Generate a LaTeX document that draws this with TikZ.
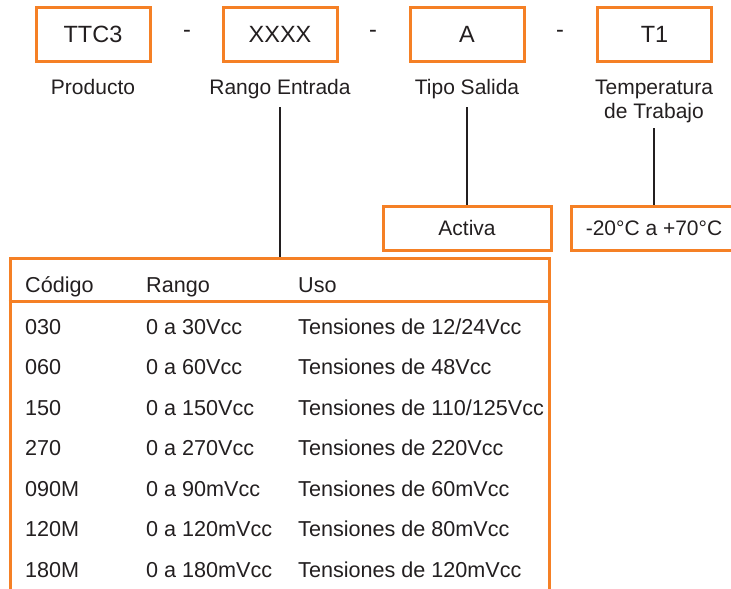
\documentclass[tikz,border=0pt]{standalone}
\usepackage{fontspec}
\setmainfont{Liberation Sans}
\definecolor{org}{HTML}{F58025}
\definecolor{ink}{HTML}{231F20}
\tikzset{
  codebox/.style={draw=org, line width=3pt, minimum width=114pt, minimum height=54pt, inner sep=0pt, text=ink, font=\fontsize{23.5}{28}\selectfont},
  valbox/.style={draw=org, line width=3pt, minimum height=44pt, inner sep=0pt, text=ink, font=\fontsize{21}{25}\selectfont},
  tablebox/.style={draw=org, line width=3pt, minimum width=539pt, minimum height=344pt, inner sep=0pt},
  lbl/.style={inner sep=0pt, text=ink, font=\fontsize{21}{24}\selectfont},
  dashtxt/.style={inner sep=0pt, text=ink, font=\fontsize{23.5}{28}\selectfont},
  cell/.style={inner sep=0pt, anchor=base west, text=ink, font=\fontsize{21.6}{24}\selectfont},
  conn/.style={draw=ink, line width=2.5pt},
  sep/.style={draw=org, line width=3pt}
}
\begin{document}
\begin{tikzpicture}[x=1pt,y=-1pt]
\useasboundingbox (0,0) rectangle (731,589);
\clip (0,0) rectangle (731,589);
% top code boxes
\node[codebox] (ttc) at (93,34) {TTC3};
\node[codebox] (xxxx) at (280,34) {XXXX};
\node[codebox] (a) at (467,34) {A};
\node[codebox] (t1) at (654.5,34) {T1};
\node[dashtxt, anchor=base] (d1) at (187,37) {-};
\node[dashtxt, anchor=base] (d2) at (373,37) {-};
\node[dashtxt, anchor=base] (d3) at (560,37) {-};
% labels
\node[lbl, anchor=base] (lprod) at (93,94) {Producto};
\node[lbl, anchor=base] (lrango) at (280,94) {Rango Entrada};
\node[lbl, anchor=base] (ltipo) at (467,94) {Tipo Salida};
\node[lbl, anchor=base] (ltemp) at (654,94) {Temperatura};
\node[lbl, anchor=base] (ltemp2) at (654,118) {de Trabajo};
% value boxes
\node[valbox, minimum width=168pt] (activa) at (467,228) {Activa};
\node[valbox, minimum width=166pt] (temp) at (654,228) {-20°C a +70°C};
% table
\node[tablebox] (tab) at (279.5,430) {};
\draw[sep] (tab.west |- 0,301) -- (tab.east |- 0,301);
% connectors
\draw[conn, shorten <=8.5pt] (lrango.south) -- (lrango.south |- tab.north);
\draw[conn, shorten <=8.5pt] (ltipo.south) -- (activa.north);
\draw[conn, shorten <=5.5pt] (ltemp2.south) -- (temp.north);
% table header
\node[cell] (h1) at (25,292) {Código};
\node[cell] (h2) at (146,292) {Rango};
\node[cell] (h3) at (298,292) {Uso};
% rows
\node[cell] (c1) at (25,334) {030};
\node[cell] (r1) at (146,334) {0 a 30Vcc};
\node[cell] (u1) at (298,334) {Tensiones de 12/24Vcc};
\node[cell] (c2) at (25,374.5) {060};
\node[cell] (r2) at (146,374.5) {0 a 60Vcc};
\node[cell] (u2) at (298,374.5) {Tensiones de 48Vcc};
\node[cell] (c3) at (25,415) {150};
\node[cell] (r3) at (146,415) {0 a 150Vcc};
\node[cell] (u3) at (298,415) {Tensiones de 110/125Vcc};
\node[cell] (c4) at (25,455.5) {270};
\node[cell] (r4) at (146,455.5) {0 a 270Vcc};
\node[cell] (u4) at (298,455.5) {Tensiones de 220Vcc};
\node[cell] (c5) at (25,496) {090M};
\node[cell] (r5) at (146,496) {0 a 90mVcc};
\node[cell] (u5) at (298,496) {Tensiones de 60mVcc};
\node[cell] (c6) at (25,536.5) {120M};
\node[cell] (r6) at (146,536.5) {0 a 120mVcc};
\node[cell] (u6) at (298,536.5) {Tensiones de 80mVcc};
\node[cell] (c7) at (25,577) {180M};
\node[cell] (r7) at (146,577) {0 a 180mVcc};
\node[cell] (u7) at (298,577) {Tensiones de 120mVcc};
\end{tikzpicture}
\end{document}
